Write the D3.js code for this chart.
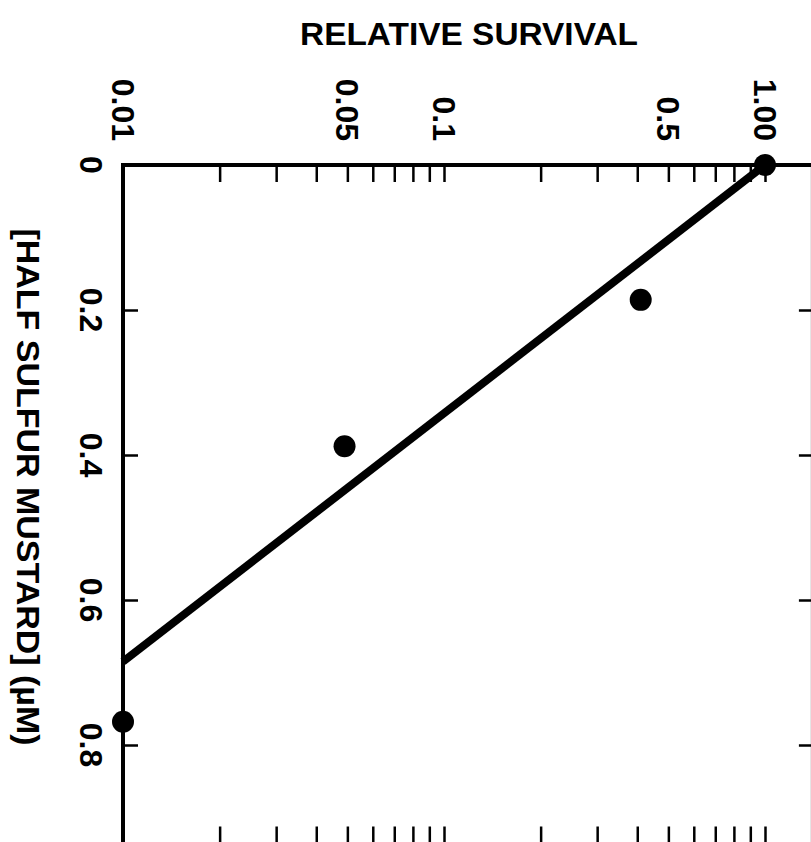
<!DOCTYPE html>
<html>
<head>
<meta charset="utf-8">
<script src="https://cdn.jsdelivr.net/npm/d3@7"></script>
<style>
  html, body { margin: 0; padding: 0; background: #fff; }
  svg { display: block; }
  text { font-family: "Liberation Sans", Arial, Helvetica, sans-serif; font-weight: bold; fill: #000; }
</style>
</head>
<body>
<script>
// ---- data ----
const survival = [1.0, 0.41, 0.049, 0.01];          // relative survival (log axis)
const concentration = [0, 0.186, 0.388, 0.768];     // [half sulfur mustard] (µM)
const fitSurvival = [1.0, 0.01];
const fitConcentration = [0, 0.685];
const survivalTickLabels = ["0.01", "0.05", "0.1", "0.5", "1.00"];
const survivalTickValues = [0.01, 0.05, 0.1, 0.5, 1.0];
const survivalMinorTicks = [0.02,0.03,0.04,0.05,0.06,0.07,0.08,0.09,0.1,0.2,0.3,0.4,0.5,0.6,0.7,0.8,0.9,1.0];
const concTickValues = [0, 0.2, 0.4, 0.6, 0.8];
const concTickLabels = ["0", "0.2", "0.4", "0.6", "0.8"];
const xTitle = "RELATIVE SURVIVAL";
const yTitle = "[HALF SULFUR MUSTARD] (\u00B5M)";

const W = 811, H = 842;
const svg = d3.select("body").append("svg").attr("width", W).attr("height", H);

const x = d3.scaleLog().domain([0.01, 1]).range([123, 765]);
const y = d3.scaleLinear().domain([0, 0.8]).range([165, 745]);
const xMax = 1.41, yMax = 0.94;
const xL = x(0.01), xR = x(xMax), yT = y(0), yB = y(yMax);

// top axis (ticks pointing into the plot)
const topAxis = svg.append("g").attr("transform", `translate(0,${yT})`)
  .call(d3.axisBottom(x).tickValues(survivalMinorTicks).tickSize(17).tickSizeOuter(0).tickFormat(""));
// bottom axis
const botAxis = svg.append("g").attr("transform", `translate(0,${yB})`)
  .call(d3.axisTop(x).tickValues(survivalMinorTicks).tickSize(20).tickSizeOuter(0).tickFormat(""));
// left axis
const leftAxis = svg.append("g").attr("transform", `translate(${xL},0)`)
  .call(d3.axisRight(y).tickValues(concTickValues.slice(1)).tickSize(15).tickSizeOuter(0).tickFormat(""));
// right axis
const rightAxis = svg.append("g").attr("transform", `translate(${xR},0)`)
  .call(d3.axisLeft(y).tickValues(concTickValues.slice(1)).tickSize(14).tickSizeOuter(0).tickFormat(""));

[topAxis, botAxis, leftAxis, rightAxis].forEach(g => {
  g.select(".domain").remove();
  g.selectAll(".tick line").attr("stroke", "#000").attr("stroke-width", 2.5);
});

// frame lines
svg.append("line").attr("x1", xL).attr("x2", xR).attr("y1", yT).attr("y2", yT)
  .attr("stroke", "#000").attr("stroke-width", 4);
svg.append("line").attr("x1", xL).attr("x2", xL).attr("y1", yT - 2).attr("y2", yB)
  .attr("stroke", "#000").attr("stroke-width", 4);
svg.append("line").attr("x1", xL).attr("x2", xR).attr("y1", yB).attr("y2", yB)
  .attr("stroke", "#000").attr("stroke-width", 4);
svg.append("line").attr("x1", xR).attr("x2", xR).attr("y1", yT).attr("y2", yB)
  .attr("stroke", "#000").attr("stroke-width", 4);

// tick labels (rotated, reading downward)
svg.selectAll("text.xlab").data(survivalTickValues).enter().append("text")
  .attr("class", "xlab")
  .attr("transform", d => `translate(${x(d)},141) rotate(90)`)
  .attr("text-anchor", "end")
  .attr("dominant-baseline", "central")
  .attr("font-size", 32)
  .text((d, i) => survivalTickLabels[i]);

svg.selectAll("text.ylab").data(concTickValues).enter().append("text")
  .attr("class", "ylab")
  .attr("transform", d => `translate(91,${y(d)}) rotate(90)`)
  .attr("text-anchor", "middle")
  .attr("dominant-baseline", "central")
  .attr("font-size", 32)
  .text((d, i) => concTickLabels[i]);

// titles
svg.append("text").attr("x", 469).attr("y", 45)
  .attr("text-anchor", "middle").attr("font-size", 31)
  .attr("textLength", 338).attr("lengthAdjust", "spacingAndGlyphs")
  .text(xTitle);

svg.append("text")
  .attr("transform", `translate(27,487) rotate(90)`)
  .attr("text-anchor", "middle").attr("dominant-baseline", "central")
  .attr("font-size", 31)
  .attr("textLength", 517).attr("lengthAdjust", "spacingAndGlyphs")
  .text(yTitle);

// fit line
const line = d3.line().x(d => x(d[0])).y(d => y(d[1]));
svg.append("path")
  .datum(fitSurvival.map((s, i) => [s, fitConcentration[i]]))
  .attr("d", line).attr("fill", "none").attr("stroke", "#000").attr("stroke-width", 8);

// points
svg.selectAll("circle.pt").data(survival.map((s, i) => [s, concentration[i]])).enter()
  .append("circle").attr("class", "pt")
  .attr("cx", d => x(d[0])).attr("cy", d => y(d[1])).attr("r", 11).attr("fill", "#000");
</script>
</body>
</html>
